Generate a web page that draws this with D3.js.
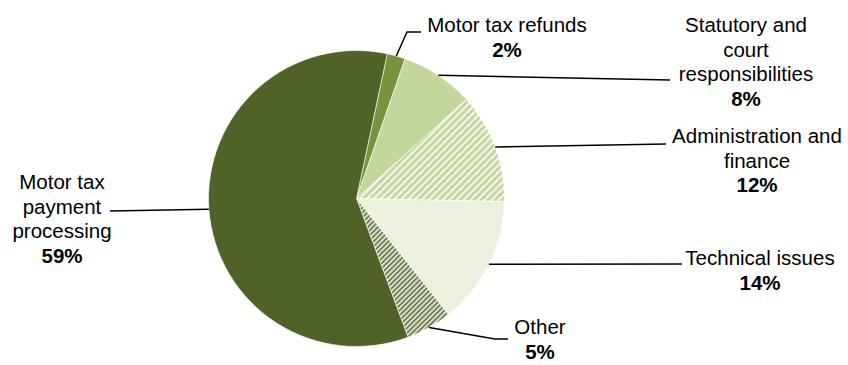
<!DOCTYPE html>
<html>
<head>
<meta charset="utf-8">
<script src="https://cdn.jsdelivr.net/npm/d3@7"></script>
<style>
  html, body { margin: 0; padding: 0; background: #ffffff; }
  svg { display: block; }
  text { font-family: "Liberation Sans", Arial, Helvetica, sans-serif; fill: #000; }
</style>
</head>
<body>
<svg id="chart" width="848" height="365"></svg>
<script>
// Share of queries by category (percent)
const categories = [
  "Motor tax refunds",
  "Statutory and court responsibilities",
  "Administration and finance",
  "Technical issues",
  "Other",
  "Motor tax payment processing"
];
const shares = [2, 8, 12, 14, 5, 59];

// Label text, broken into lines as drawn
const labelLines = [
  ["Motor tax refunds"],
  ["Statutory and", "court", "responsibilities"],
  ["Administration and", "finance"],
  ["Technical issues"],
  ["Other"],
  ["Motor tax", "payment", "processing"]
];

// Fill keys per slice (solid colours or pattern ids)
const fills = ["#77933c", "#c3d69b", "url(#wideDiag)", "#ebf1de", "url(#darkDiag)", "#4f6228"];

// Label block placement: centre x, first line centre y, leader bend/end points
const labelLayout = [
  { x: 507, y: 25, leader: [[407, 32], [421, 32]] },
  { x: 746, y: 25, leader: [[670, 80]] },
  { x: 757, y: 136, leader: [[666, 144]] },
  { x: 760, y: 258, leader: [[682, 264]] },
  { x: 540, y: 327, leader: [[495, 339], [508, 339]] },
  { x: 62, y: 182, leader: [[110, 211]] }
];

const cx = 356.5, cy = 198.5, radius = 148;
const fontSize = 20.5, lineH = 24.6;
const startDeg = 12;

const svg = d3.select("#chart");

// Hatch patterns
const defs = svg.append("defs");
const wide = defs.append("pattern")
  .attr("id", "wideDiag").attr("patternUnits", "userSpaceOnUse")
  .attr("width", 7).attr("height", 7);
wide.append("rect").attr("width", 7).attr("height", 7).attr("fill", "#ffffff");
wide.append("path")
  .attr("d", "M-2,2 l4,-4 M0,7 l7,-7 M5,9 l4,-4")
  .attr("stroke", "#c3d69b").attr("stroke-width", 3.2);

const dark = defs.append("pattern")
  .attr("id", "darkDiag").attr("patternUnits", "userSpaceOnUse")
  .attr("width", 5).attr("height", 5);
dark.append("rect").attr("width", 5).attr("height", 5).attr("fill", "#ffffff");
dark.append("path")
  .attr("d", "M-1,1 l2,-2 M0,5 l5,-5 M4,6 l2,-2")
  .attr("stroke", "#4f6228").attr("stroke-width", 1.8);

const data = categories.map((c, i) => ({ category: c, value: shares[i], idx: i }));

const start = startDeg * Math.PI / 180;
const pie = d3.pie().value(d => d.value).sort(null)
  .startAngle(start).endAngle(start + 2 * Math.PI);
const arcs = pie(data);

const arc = d3.arc().innerRadius(0).outerRadius(radius);

const g = svg.append("g").attr("transform", `translate(${cx},${cy})`);

g.selectAll("path.slice")
  .data(arcs)
  .join("path")
  .attr("class", "slice")
  .attr("d", arc)
  .attr("fill", d => fills[d.data.idx])
  .attr("stroke", "#ffffff")
  .attr("stroke-width", 0.6);

// Leader lines from the slice rim at its mid angle
const line = d3.line();
arcs.forEach(a => {
  const mid = (a.startAngle + a.endAngle) / 2;
  const p0 = [cx + radius * Math.sin(mid), cy - radius * Math.cos(mid)];
  const pts = [p0].concat(labelLayout[a.data.idx].leader);
  svg.append("path")
    .attr("d", line(pts))
    .attr("fill", "none")
    .attr("stroke", "#000")
    .attr("stroke-width", 1.5);
});

// Labels: category lines plus bold percentage
arcs.forEach(a => {
  const i = a.data.idx;
  const L = labelLayout[i];
  const lines = labelLines[i];
  const t = svg.append("text")
    .attr("text-anchor", "middle")
    .attr("font-size", fontSize);
  lines.forEach((s, k) => {
    t.append("tspan")
      .attr("x", L.x)
      .attr("y", L.y + k * lineH)
      .attr("dy", "0.35em")
      .text(s);
  });
  t.append("tspan")
    .attr("x", L.x)
    .attr("y", L.y + lines.length * lineH)
    .attr("dy", "0.35em")
    .attr("font-weight", "bold")
    .text(d3.format("d")(a.data.value) + "%");
});
</script>
</body>
</html>
